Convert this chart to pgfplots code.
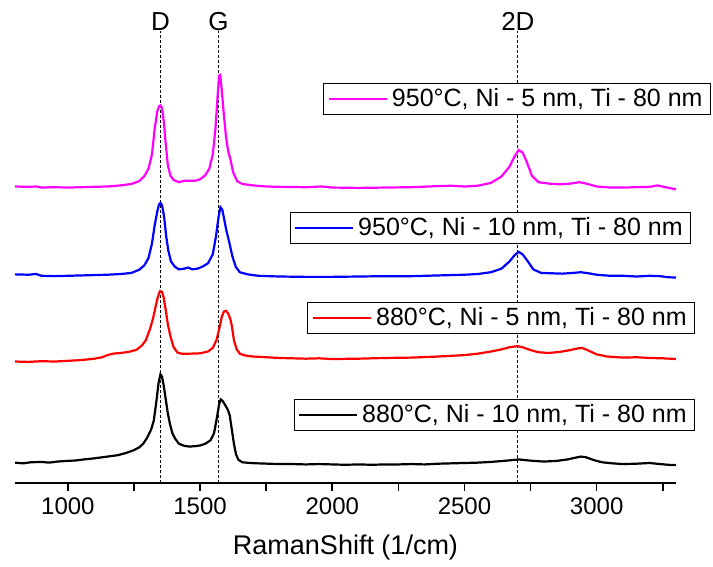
\documentclass[border=0pt]{standalone}
\usepackage{fontspec}
\setmainfont{Liberation Sans}
\usepackage{pgfplots}
\pgfplotsset{compat=1.18}
\definecolor{pink1}{RGB}{255,0,255}

% one style shared by the four overlaid axes
\pgfplotsset{
  raman/.style={
    scale only axis, width=330.5pt, height=239pt,
    xmin=800, xmax=3300, ymin=0, ymax=1338,
    /pgf/number format/assume math mode=true,
    legend style={anchor=north east, draw=black, line width=0.5pt, fill=white,
      inner xsep=2pt, inner ysep=0.5pt, font=\fontsize{12.5}{13}\selectfont,
      cells={anchor=west}},
    legend image code/.code={\draw[#1] (0pt,0pt) -- (29pt,0pt);},
  },
  curve/.style={line width=1.1pt},
  peakline/.style={black, line width=0.6pt, dash pattern=on 1.5pt off 1pt, forget plot},
}

\begin{document}
\begin{tikzpicture}
\path (-7.5pt,-39pt) rectangle (349pt,241.5pt);

% axis 1: x axis, peak markers, black spectrum
\begin{axis}[raman,
  axis x line=bottom, axis y line=none,
  x axis line style={-, line width=1pt},
  xtick={1000,1500,2000,2500,3000},
  minor xtick={1250,1750,2250,2750,3250},
  tick align=outside, major tick length=4pt, minor tick length=4pt,
  tick style={black, line width=0.8pt},
  ticklabel style={font=\fontsize{12}{14}\selectfont},
  /pgf/number format/1000 sep={},
  xlabel={RamanShift (1/cm)},
  xlabel style={font=\fontsize{13.5}{15}\selectfont, yshift=-3pt},
  legend style={at={(1.029,0.176)}},
]
\addplot[peakline] coordinates {(1350,0) (1350,1264)};
\addplot[peakline] coordinates {(1570,0) (1570,1264)};
\addplot[peakline] coordinates {(2702,0) (2702,1264)};
\node[font=\fontsize{13}{14}\selectfont] at (axis cs:1350,1292) {D};
\node[font=\fontsize{13}{14}\selectfont] at (axis cs:1570,1292) {G};
\node[font=\fontsize{13}{14}\selectfont] at (axis cs:2702,1292) {2D};

\addplot[black, curve] coordinates {
(800,57) (830,55) (860,58) (900,59) (930,57) (960,60) (1000,62) (1030,63)
(1060,66) (1100,69) (1130,72) (1160,75) (1190,78) (1220,84) (1250,92)
(1270,100) (1285,110) (1300,127) (1315,150) (1325,175) (1335,230) (1343,280)
(1350,304) (1356,298) (1363,270) (1370,235) (1378,195) (1386,165) (1395,140)
(1405,125) (1420,110) (1440,104) (1460,102) (1480,103) (1500,105) (1520,110)
(1540,120) (1553,140) (1563,180) (1572,220) (1578,234) (1585,230) (1595,218)
(1605,205) (1612,190) (1620,150) (1628,110) (1636,80) (1645,65) (1660,58)
(1690,56) (1720,55) (1760,54) (1800,53) (1850,53) (1900,52) (1950,53)
(2000,52) (2050,51) (2100,52) (2150,51) (2200,52) (2250,52) (2300,53)
(2350,52) (2400,54) (2450,55) (2500,56) (2550,57) (2600,59) (2650,62)
(2680,64) (2705,66) (2730,64) (2760,62) (2800,60) (2850,62) (2890,66)
(2920,71) (2940,74) (2960,72) (2990,64) (3020,58) (3060,55) (3100,53)
(3150,54) (3200,56) (3240,53) (3270,51) (3300,50)
};
\addlegendentry{880°C, Ni - 10 nm, Ti - 80 nm}
\end{axis}

% axis 2: red spectrum
\begin{axis}[raman, hide axis, legend style={at={(1.029,0.379)}}]
\addplot[red, curve] coordinates {
(800,340) (850,339) (900,341) (950,340) (1000,342) (1050,344) (1100,348)
(1130,352) (1150,358) (1170,362) (1200,364) (1230,367) (1260,373) (1280,385)
(1295,400) (1310,430) (1322,460) (1332,495) (1340,520) (1348,537) (1356,535)
(1362,520) (1370,485) (1378,445) (1388,410) (1400,380) (1415,365) (1430,362)
(1460,362) (1500,363) (1530,368) (1548,378) (1562,400) (1572,430) (1582,465)
(1590,480) (1598,482) (1606,475) (1614,460) (1620,440) (1628,400) (1638,375)
(1650,362) (1670,357) (1700,354) (1750,352) (1800,350) (1850,349) (1900,348)
(1950,349) (2000,347) (2100,348) (2200,350) (2300,351) (2400,354) (2450,356)
(2500,358) (2550,362) (2600,368) (2640,374) (2670,380) (2700,383) (2720,380)
(2750,372) (2780,366) (2820,364) (2860,367) (2900,372) (2930,377) (2945,378)
(2965,372) (3000,360) (3040,354) (3100,351) (3150,352) (3200,350) (3250,349)
(3300,347)
};
\addlegendentry{880°C, Ni - 5 nm, Ti - 80 nm}
\end{axis}

% axis 3: blue spectrum
\begin{axis}[raman, hide axis, legend style={at={(1.023,0.567)}}]
\addplot[blue, curve] coordinates {
(800,584) (850,583) (880,585) (900,580) (950,579) (1000,580) (1050,581)
(1100,582) (1150,583) (1200,585) (1240,588) (1270,597) (1290,610) (1305,630)
(1318,670) (1328,720) (1338,760) (1345,780) (1350,784) (1356,778) (1364,745)
(1372,690) (1380,650) (1390,620) (1405,605) (1420,598) (1440,600) (1455,603)
(1470,598) (1490,600) (1510,606) (1530,615) (1548,640) (1560,690) (1570,745)
(1577,772) (1584,765) (1592,735) (1600,705) (1610,675) (1622,635) (1635,605)
(1650,590) (1680,584) (1720,580) (1800,578) (1900,577) (2000,577) (2100,578)
(2200,579) (2300,579) (2400,581) (2500,583) (2550,585) (2600,590) (2640,600)
(2670,620) (2690,638) (2705,647) (2720,640) (2740,620) (2760,598) (2790,588)
(2830,587) (2870,586) (2910,588) (2940,590) (2970,587) (3000,583) (3050,580)
(3100,580) (3150,578) (3200,580) (3240,579) (3270,576) (3300,575)
};
\addlegendentry{950°C, Ni - 10 nm, Ti - 80 nm}
\end{axis}

% axis 4: magenta spectrum
\begin{axis}[raman, hide axis, legend style={at={(1.053,0.837)}}]
\addplot[pink1, curve] coordinates {
(800,830) (850,829) (880,830) (900,827) (950,828) (1000,827) (1050,828)
(1100,829) (1150,830) (1200,833) (1240,837) (1270,845) (1290,860) (1305,880)
(1318,920) (1328,990) (1338,1040) (1345,1055) (1350,1057) (1356,1050)
(1363,1010) (1370,950) (1378,890) (1388,860) (1400,848) (1420,842) (1440,846)
(1460,846) (1480,846) (1500,850) (1520,862) (1535,880) (1548,920) (1558,990)
(1566,1080) (1572,1140) (1576,1142) (1582,1100) (1590,1030) (1598,970)
(1606,930) (1615,905) (1625,870) (1640,845) (1660,837) (1700,833) (1750,830)
(1800,829) (1900,828) (1960,830) (2000,827) (2100,826) (2200,827) (2300,828)
(2400,831) (2450,832) (2500,830) (2550,832) (2600,840) (2640,858) (2670,885)
(2690,915) (2705,932) (2720,925) (2735,900) (2755,860) (2780,842) (2820,838)
(2860,836) (2900,838) (2935,842) (2960,838) (3000,830) (3050,827) (3100,827)
(3150,828) (3200,829) (3230,833) (3260,828) (3300,822)
};
\addlegendentry{950°C, Ni - 5 nm, Ti - 80 nm}
\end{axis}
\end{tikzpicture}
\end{document}
